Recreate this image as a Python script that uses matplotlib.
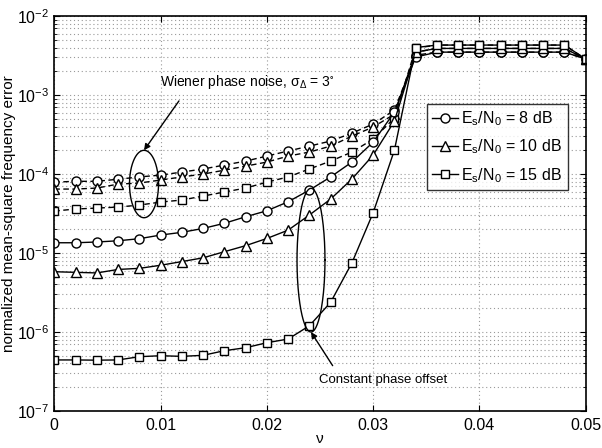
import numpy as np
import matplotlib
matplotlib.use('Agg')
import matplotlib.pyplot as plt
from matplotlib.ticker import LogLocator, NullFormatter

plt.rcParams['font.family'] = ['Liberation Sans', 'DejaVu Sans']
plt.rcParams['mathtext.fontset'] = 'custom'
plt.rcParams['mathtext.rm'] = 'Liberation Sans'
plt.rcParams['mathtext.it'] = 'Liberation Sans'
plt.rcParams['mathtext.default'] = 'regular'

# Data: normalized frequency offset and MSE values.
nu = [0.000, 0.002, 0.004, 0.006, 0.008, 0.010, 0.012, 0.014, 0.016, 0.018,
      0.020, 0.022, 0.024, 0.026, 0.028, 0.030, 0.032, 0.034, 0.036, 0.038,
      0.040, 0.042, 0.044, 0.046, 0.048, 0.050]

# Wiener phase noise (dashed)
wiener_8 = [7.9e-5, 8.1e-5, 8.1e-5, 8.6e-5, 9.2e-5, 9.7e-5, 1.06e-4, 1.16e-4, 1.30e-4, 1.46e-4,
            1.69e-4, 1.96e-4, 2.26e-4, 2.62e-4, 3.30e-4, 4.30e-4, 6.46e-4, 3.2e-3, 3.5e-3, 3.5e-3,
            3.5e-3, 3.5e-3, 3.5e-3, 3.5e-3, 3.5e-3, 2.86e-3]
wiener_10 = [6.46e-5, 6.46e-5, 6.65e-5, 7.46e-5, 7.7e-5, 8.4e-5, 9.2e-5, 1.0e-4, 1.12e-4, 1.26e-4,
             1.42e-4, 1.69e-4, 1.90e-4, 2.26e-4, 3.03e-4, 3.94e-4, 5.74e-4, 3.5e-3, 3.9e-3, 3.9e-3,
             3.9e-3, 3.9e-3, 3.9e-3, 3.9e-3, 3.9e-3, 2.86e-3]
wiener_15 = [3.40e-5, 3.61e-5, 3.71e-5, 3.82e-5, 4.05e-5, 4.42e-5, 4.69e-5, 5.27e-5, 5.92e-5, 6.65e-5,
             7.9e-5, 9.2e-5, 1.16e-4, 1.46e-4, 1.90e-4, 2.77e-4, 5.12e-4, 3.94e-3, 4.3e-3, 4.3e-3,
             4.3e-3, 4.3e-3, 4.3e-3, 4.3e-3, 4.3e-3, 2.86e-3]

# Constant phase offset (solid)
const_8 = [1.35e-5, 1.35e-5, 1.38e-5, 1.43e-5, 1.52e-5, 1.69e-5, 1.83e-5, 2.05e-5, 2.38e-5, 2.88e-5,
           3.43e-5, 4.46e-5, 6.27e-5, 9.2e-5, 1.42e-4, 2.54e-4, 6.1e-4, 3.03e-3, 3.5e-3, 3.5e-3,
           3.5e-3, 3.5e-3, 3.5e-3, 3.5e-3, 3.5e-3, 2.86e-3]
const_10 = [5.8e-6, 5.7e-6, 5.6e-6, 6.2e-6, 6.4e-6, 7.0e-6, 7.8e-6, 8.7e-6, 1.04e-5, 1.24e-5,
            1.53e-5, 1.95e-5, 3.03e-5, 4.83e-5, 8.65e-5, 1.74e-4, 4.69e-4, 3.5e-3, 3.9e-3, 3.9e-3,
            3.9e-3, 3.9e-3, 3.9e-3, 3.9e-3, 3.9e-3, 2.86e-3]
const_15 = [4.43e-7, 4.43e-7, 4.40e-7, 4.43e-7, 4.87e-7, 5.01e-7, 4.92e-7, 5.07e-7, 5.80e-7, 6.33e-7,
            7.32e-7, 8.15e-7, 1.20e-6, 2.38e-6, 7.5e-6, 3.24e-5, 2.01e-4, 4.0e-3, 4.3e-3, 4.3e-3,
            4.3e-3, 4.3e-3, 4.3e-3, 4.3e-3, 4.3e-3, 2.86e-3]

x_ticks = [0, 0.01, 0.02, 0.03, 0.04, 0.05]
x_ticklabels = ['0', '0.01', '0.02', '0.03', '0.04', '0.05']
labels = [r'E$_s$/N$_0$ = 8 dB', r'E$_s$/N$_0$ = 10 dB', r'E$_s$/N$_0$ = 15 dB']
markers = ['o', '^', 's']
sizes = [6.5, 7, 5.5]

fig = plt.figure(figsize=(6.02, 4.48), dpi=100)
ax = fig.add_axes([0.0902, 0.0826, 0.8828, 0.8814])

style = dict(color='black', linewidth=1.0, markerfacecolor='white',
             markeredgecolor='black', markeredgewidth=1.0)

for data, m, ms in zip([wiener_8, wiener_10, wiener_15], markers, sizes):
    ax.plot(nu, data, linestyle=(0, (4, 2.5)), marker=m, markersize=ms, **style)

handles = []
for data, m, ms, lab in zip([const_8, const_10, const_15], markers, sizes, labels):
    h, = ax.plot(nu, data, linestyle='-', marker=m, markersize=ms, label=lab, **style)
    handles.append(h)

ax.set_yscale('log')
ax.set_xlim(0, 0.05)
ax.set_ylim(1e-7, 1e-2)
ax.set_xticks(x_ticks)
ax.set_xticklabels(x_ticklabels)
ax.yaxis.set_major_locator(LogLocator(base=10, numticks=10))
ax.yaxis.set_minor_locator(LogLocator(base=10, subs=np.arange(2, 10), numticks=10))
ax.yaxis.set_minor_formatter(NullFormatter())
ax.tick_params(which='both', direction='in', top=True, right=True, labelsize=11.5)
ax.tick_params(axis='x', pad=5)
ax.tick_params(which='major', length=4)
ax.tick_params(which='minor', length=2.5)
ax.grid(True, which='major', linestyle=(0, (1, 2.5)), color='#999999', linewidth=0.8)
ax.grid(True, which='minor', axis='y', linestyle=(0, (1, 2.5)), color='#999999', linewidth=0.8)
for s in ax.spines.values():
    s.set_linewidth(1.2)

ax.set_xlabel(r'$\nu$', fontsize=11, labelpad=-1)
ax.set_ylabel('normalized mean-square frequency error', fontsize=11, labelpad=1)

leg = ax.legend(handles=handles, loc='upper left', bbox_to_anchor=(0.701, 0.778),
                fontsize=11.5, frameon=True, fancybox=False, edgecolor='black',
                handlelength=1.6, handletextpad=0.2, borderpad=0.35, labelspacing=0.6,
                borderaxespad=0)
leg.get_frame().set_linewidth(1.0)

# Ellipses marking the two groups of curves (drawn in x / log10(y) space).
t = np.linspace(0, 2 * np.pi, 200)
def ellipse(xc, w, ylo, yhi):
    lc, lh = (np.log10(ylo) + np.log10(yhi)) / 2, (np.log10(yhi) - np.log10(ylo)) / 2
    ax.plot(xc + w / 2 * np.cos(t), 10 ** (lc + lh * np.sin(t)), color='black', linewidth=1.0)

ellipse(0.00844, 0.00273, 2.8e-5, 2.0e-4)
ellipse(0.02415, 0.00263, 1.0e-6, 6.6e-5)

ax.annotate(r'Wiener phase noise, $\sigma_{\Delta}$ = 3$^{\circ}$', xy=(0.00844, 2.0e-4),
            xytext=(0.0099, 1.45e-3), fontsize=10, ha='left', va='center',
            arrowprops=dict(arrowstyle='-|>', color='black', lw=1.0, mutation_scale=9,
                            shrinkA=6, shrinkB=0, relpos=(0.15, 0.0)))
ax.annotate('Constant phase offset', xy=(0.02415, 1.0e-6), xytext=(0.0249, 2.45e-7),
            fontsize=9.5, ha='left', va='center',
            arrowprops=dict(arrowstyle='-|>', color='black', lw=1.0, mutation_scale=9,
                            shrinkA=5, shrinkB=0, relpos=(0.15, 1.0)))

fig.savefig('out.png', dpi=100)
